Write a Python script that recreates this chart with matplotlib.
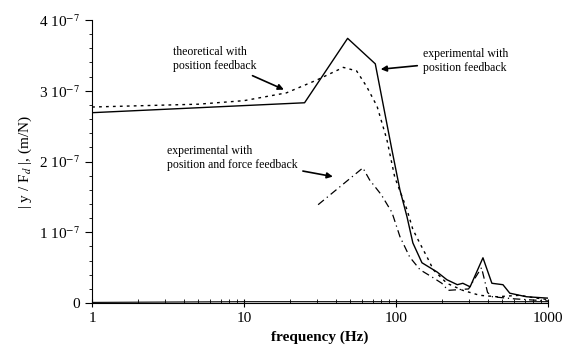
import matplotlib
matplotlib.use("Agg")
import matplotlib.pyplot as plt
import matplotlib.ticker as mtick
import numpy as np

plt.rcParams["font.family"] = ["Liberation Serif", "DejaVu Serif"]
plt.rcParams["mathtext.fontset"] = "stix"

# experimental with position feedback (solid)
exp_pos_f = [1, 25, 48, 73, 94, 106, 118, 129, 148, 186, 216, 253, 275, 307, 373, 427, 505, 560, 720, 1000]
exp_pos_y = [2.69, 2.83, 3.74, 3.38, 2.16, 1.60, 1.22, 0.85, 0.57, 0.44, 0.33, 0.26, 0.28, 0.23, 0.64, 0.28, 0.26, 0.14, 0.09, 0.07]

# theoretical with position feedback (dotted)
theo_f = [1, 5, 10, 19, 30, 45, 55, 64, 75, 87, 98, 118, 129, 143, 160, 176, 216, 275, 355, 460, 650, 840, 1000]
theo_y = [2.77, 2.81, 2.86, 2.97, 3.15, 3.33, 3.28, 3.06, 2.78, 2.31, 1.78, 1.32, 1.04, 0.85, 0.65, 0.47, 0.28, 0.18, 0.11, 0.09, 0.11, 0.07, 0.05]

# experimental with position and force feedback (dash-dot)
force_f = [30.7, 60.5, 67, 80, 94, 106, 123, 144, 172, 200, 220, 300, 330, 365, 400, 430, 600, 1000]
force_y = [1.39, 1.91, 1.74, 1.53, 1.28, 0.94, 0.65, 0.47, 0.37, 0.28, 0.18, 0.20, 0.35, 0.50, 0.15, 0.09, 0.06, 0.03]

# near-zero trace along the axis
base_f = [1, 10, 100, 1000]
base_y = [0.01, 0.02, 0.02, 0.02]

fig = plt.figure(figsize=(5.65, 3.5), dpi=100)
ax = fig.add_axes([0.163, 0.134, 0.807, 0.809])

scale = 1e-7
ax.plot(exp_pos_f, np.array(exp_pos_y) * scale, color="black", lw=1.0)
ax.plot(theo_f, np.array(theo_y) * scale, color="black", lw=1.0, ls=(0, (2, 3)))
ax.plot(force_f, np.array(force_y) * scale, color="black", lw=0.9, ls=(0, (6, 3, 1, 3)))
ax.plot(base_f, np.array(base_y) * scale, color="black", lw=0.8)

ax.set_xscale("log")
ax.set_xlim(1, 1000)
ax.set_ylim(0, 4e-7)

ax.spines["top"].set_visible(False)
ax.spines["right"].set_visible(False)

ax.set_xticks([1, 10, 100, 1000])
ax.set_xticklabels(["1", "10", "100", "1000"])
ax.xaxis.set_minor_locator(mtick.LogLocator(base=10, subs=np.arange(2, 10)))
ax.xaxis.set_minor_formatter(mtick.NullFormatter())
ax.tick_params(axis="x", which="major", direction="inout", length=6, labelsize=11)
ax.tick_params(axis="x", which="minor", direction="in", length=3)

ax.set_yticks([0, 1e-7, 2e-7, 3e-7, 4e-7])
ax.set_yticklabels(["0", r"1 10$^{-7}$", r"2 10$^{-7}$", r"3 10$^{-7}$", r"4 10$^{-7}$"])
ax.yaxis.set_minor_locator(mtick.MultipleLocator(0.2e-7))
ax.tick_params(axis="y", which="major", direction="out", length=5, labelsize=11)
ax.tick_params(axis="y", which="minor", direction="out", length=2)

ax.set_xlabel("frequency (Hz)", fontsize=11, fontweight="bold")
ax.set_ylabel(r"| y / F$_d$ |, (m/N)", fontsize=11)

ax.annotate("theoretical with\nposition feedback", xy=(19, 3.0e-7), xytext=(3.4, 3.45e-7),
            fontsize=8.5, ha="left", va="center",
            arrowprops=dict(arrowstyle="-|>", color="black", lw=1.2))
ax.annotate("experimental with\nposition feedback", xy=(76, 3.3e-7), xytext=(150, 3.42e-7),
            fontsize=8.5, ha="left", va="center",
            arrowprops=dict(arrowstyle="-|>", color="black", lw=1.2))
ax.annotate("experimental with\nposition and force feedback", xy=(40, 1.78e-7), xytext=(3.1, 2.05e-7),
            fontsize=8.5, ha="left", va="center",
            arrowprops=dict(arrowstyle="-|>", color="black", lw=1.2))

fig.savefig("out.png", dpi=100)
